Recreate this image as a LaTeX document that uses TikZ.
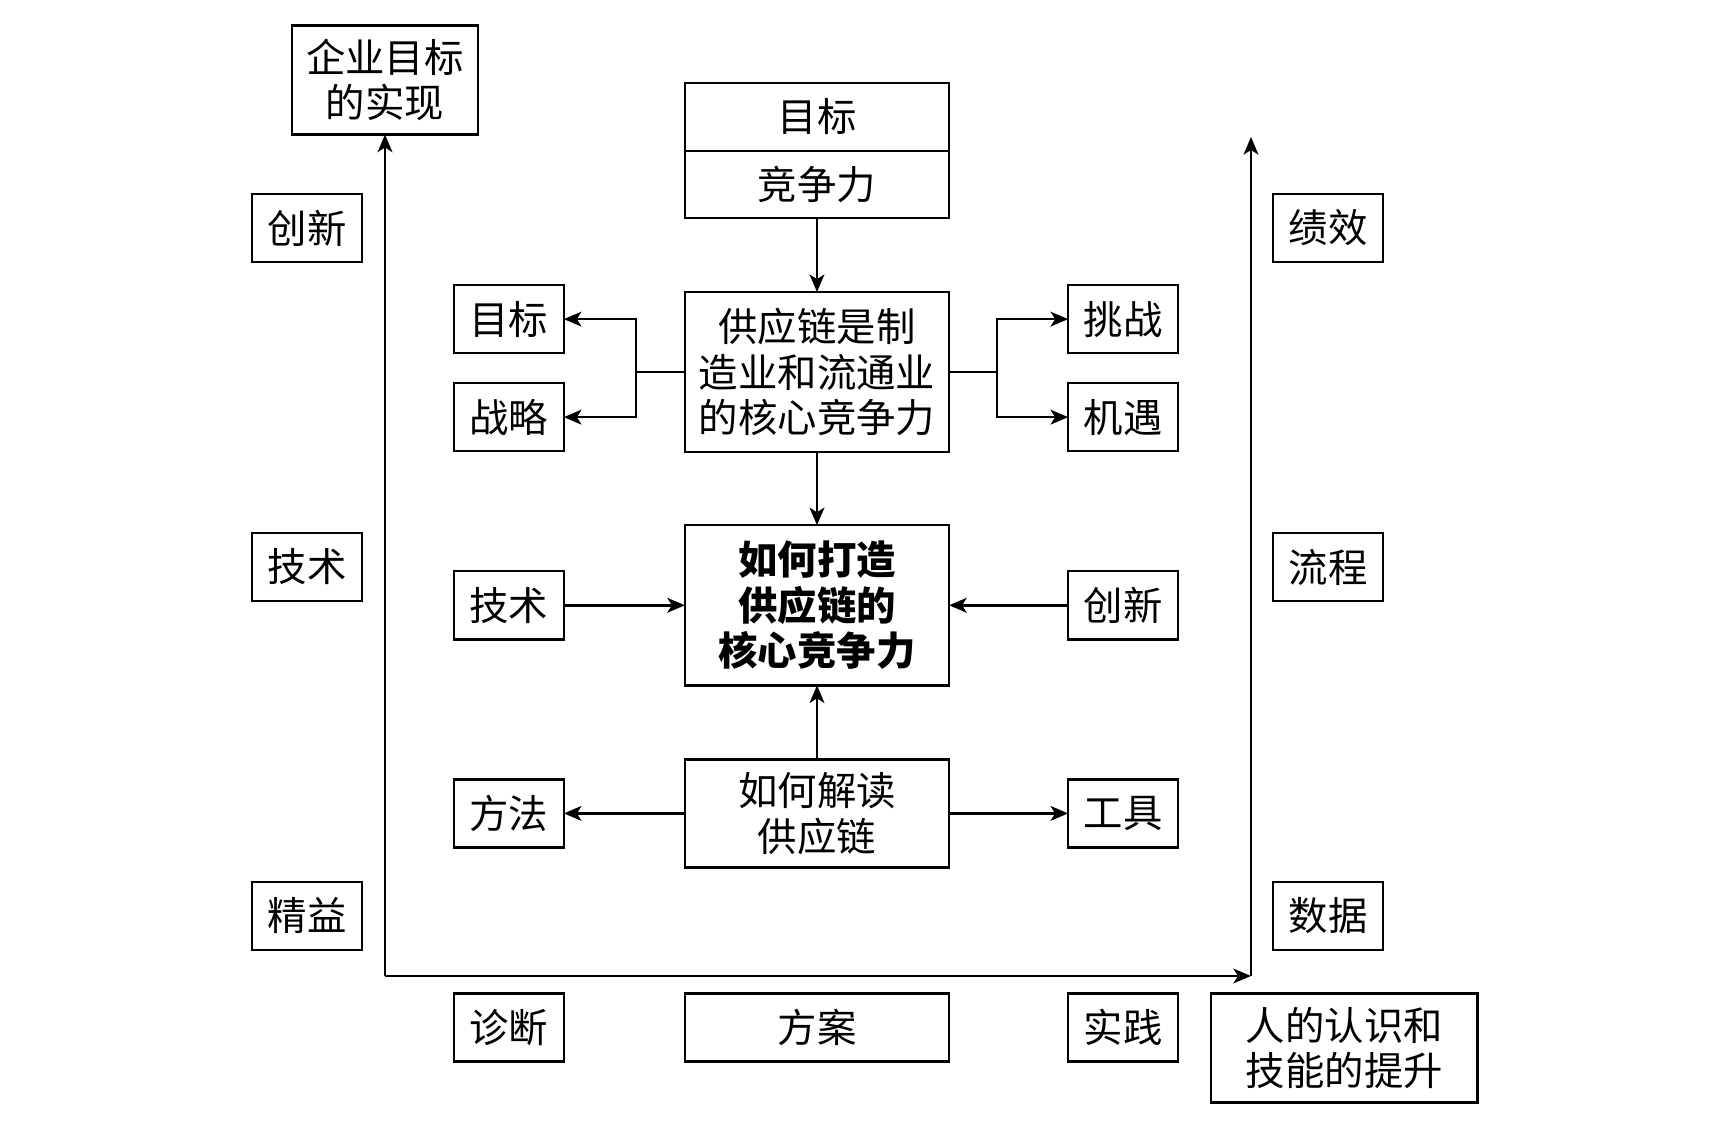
\documentclass[tikz,border=0pt]{standalone}
\usepackage{fontspec}
\setmainfont{Noto Sans CJK SC}
\usetikzlibrary{arrows.meta, positioning}
\tikzset{>={Stealth[length=5pt,width=4.2pt,inset=1.3pt]}}

\begin{document}
\begin{tikzpicture}[x=0.01cm, y=-0.01cm,
      box/.style = {draw, line width=0.7pt, align=center, inner sep=0pt, outer sep=0pt, font=\fontsize{11.2pt}{13pt}\selectfont},
      small/.style = {box, minimum width=1.1cm, minimum height=0.68cm},
      wide/.style = {box, minimum width=2.64cm},
      arrow/.style = {->, line width=0.7pt}
    ]
    \useasboundingbox (0,0) rectangle (1729,1146);

    % centre column
    \node[wide, minimum height=0.68cm] (mubiao) at (817,117) {目标};
    \node[wide, minimum height=0.67cm, below=0pt of mubiao] (jingzheng) {竞争力};
    \node[wide, minimum height=1.6cm, below=0.74cm of jingzheng] (hexin) {供应链是制\\造业和流通业\\的核心竞争力};
    \node[wide, minimum height=1.6cm, below=0.73cm of hexin, font=\fontsize{11.2pt}{13pt}\selectfont\bfseries] (dazao) {如何打造\\供应链的\\核心竞争力};
    \node[wide, minimum height=1.08cm, below=0.74cm of dazao] (jiedu) {如何解读\\供应链};
    \node[wide, minimum height=0.68cm, below=1.26cm of jiedu] (fangan) {方案};

    % inner boxes
    \node[small, left=1.21cm of hexin, yshift=0.53cm] (mubiaoL) {目标};
    \node[small, left=1.21cm of hexin, yshift=-0.45cm] (zhanlue) {战略};
    \node[small, right=1.19cm of hexin, yshift=0.53cm] (tiaozhan) {挑战};
    \node[small, right=1.19cm of hexin, yshift=-0.45cm] (jiyu) {机遇};
    \node[small, left=1.21cm of dazao] (jishuL) {技术};
    \node[small, right=1.19cm of dazao] (chuangxinR) {创新};
    \node[small, left=1.21cm of jiedu] (fangfa) {方法};
    \node[small, right=1.19cm of jiedu] (gongju) {工具};
    \node[small, left=1.21cm of fangan] (zhenduan) {诊断};
    \node[small, right=1.19cm of fangan] (shijian) {实践};
    \node[box, minimum width=2.66cm, minimum height=1.09cm, below right=0cm and 0.33cm of shijian.north east] (tisheng) {人的认识和\\技能的提升};

    % outer boxes
    \node[box, minimum width=1.86cm, minimum height=1.09cm] (qiye) at (385,80) {企业目标\\的实现};
    \node[small] (chuangxin) at (307,228) {创新};
    \node[small] (jishu) at (307,567) {技术};
    \node[small] (jingyi) at (307,916) {精益};
    \node[small] (jixiao) at (1328,228) {绩效};
    \node[small] (liucheng) at (1328,567) {流程};
    \node[small] (shuju) at (1328,916) {数据};

    \coordinate (lb) at (385,976);
    \coordinate (rb) at (1251,976);
    \coordinate (rt) at (1251,137);

    \draw[arrow] (jingzheng) -- (hexin);
    \draw[arrow] (hexin) -- (dazao);
    \draw[arrow] (jiedu) -- (dazao);
    \draw[arrow] (hexin.west) -- ++(-0.49cm,0) |- (mubiaoL.east);
    \draw[arrow] (hexin.west) -- ++(-0.49cm,0) |- (zhanlue.east);
    \draw[arrow] (hexin.east) -- ++(0.48cm,0) |- (tiaozhan.west);
    \draw[arrow] (hexin.east) -- ++(0.48cm,0) |- (jiyu.west);
    \draw[arrow] (jishuL) -- (dazao);
    \draw[arrow] (chuangxinR) -- (dazao);
    \draw[arrow] (jiedu) -- (fangfa);
    \draw[arrow] (jiedu) -- (gongju);

    \draw[arrow] (lb) -- (qiye.south);
    \draw[arrow] (lb) -- (rb);
    \draw[arrow] (rb) -- (rt);
\end{tikzpicture}
\end{document}
